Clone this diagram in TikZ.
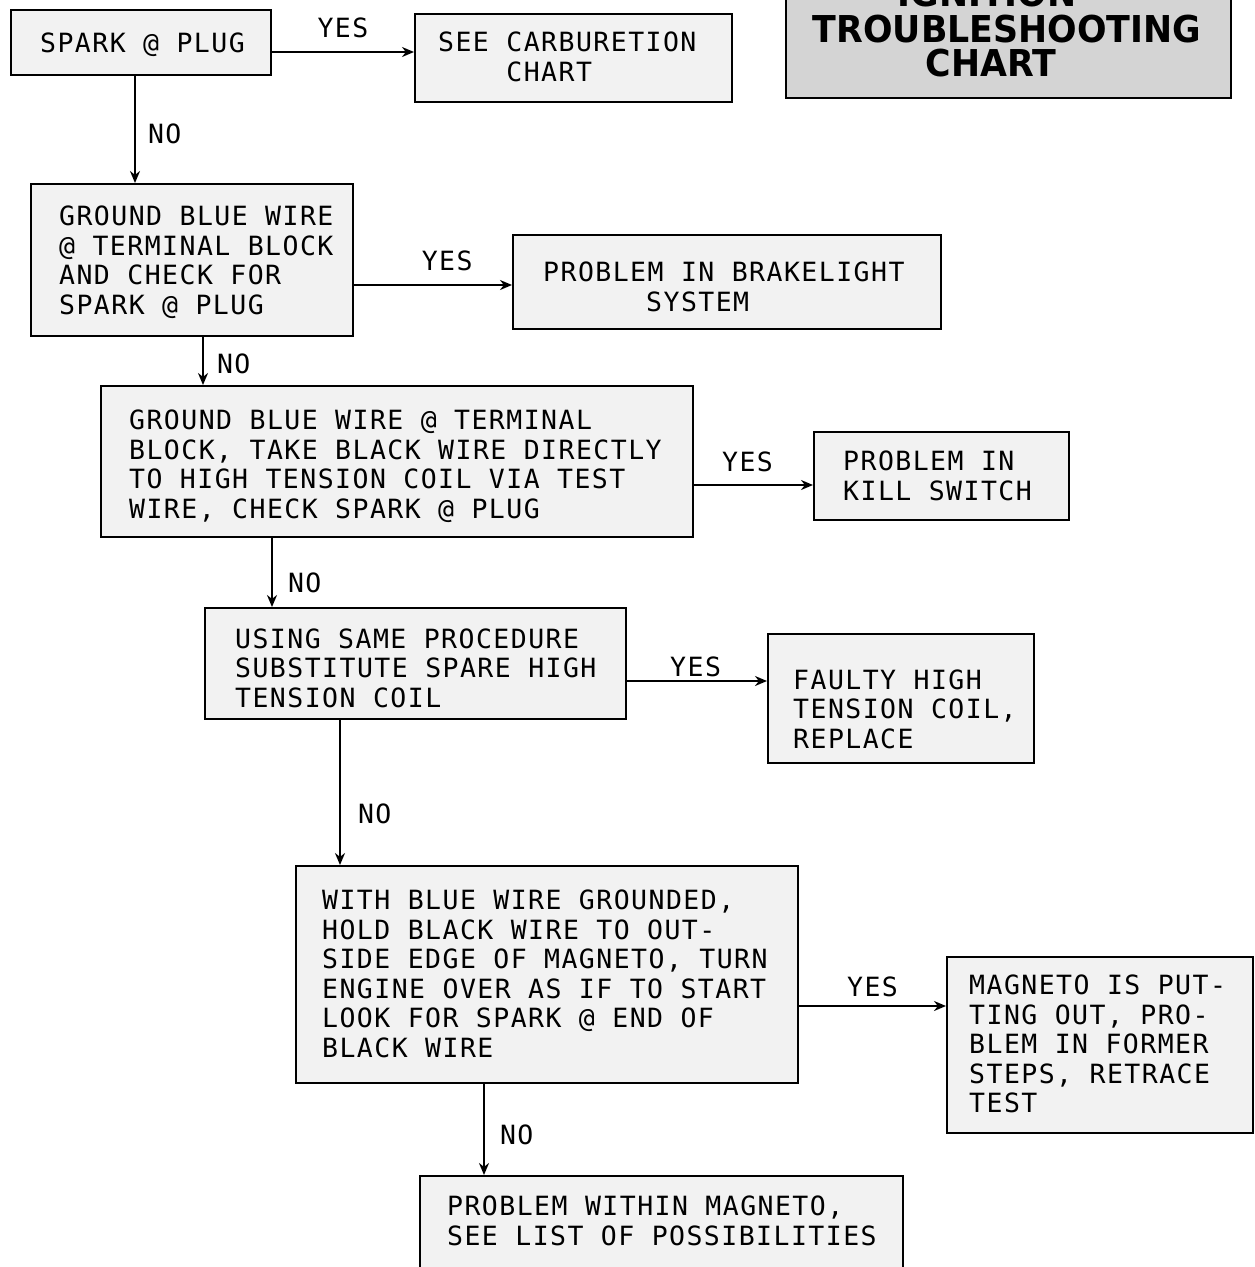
\documentclass[tikz,border=0pt]{standalone}
\usepackage{fontspec}
\usepackage{graphicx}
\usetikzlibrary{arrows.meta}
\newfontfamily\chartmono[LetterSpace=5.5]{DejaVu Sans Mono}
\newfontfamily\charttitle{DejaVu Sans}
\tikzset{
  box/.style={draw, line width=2pt, fill=black!5, inner sep=0pt, anchor=north west},
  titlebox/.style={draw, line width=2pt, fill=black!17, inner sep=0pt},
  txt/.style={font=\chartmono\fontsize{26.5}{29.5}\selectfont, align=left, inner sep=0pt, anchor=west},
  lbl/.style={font=\chartmono\fontsize{26.5}{29.5}\selectfont, inner sep=0pt},
  ttl/.style={font=\charttitle\bfseries\fontsize{37}{37}\selectfont, inner sep=0pt, anchor=base},
  arr/.style={line width=2pt, -{Stealth[length=12pt,width=10pt]}},
}
\begin{document}
\begin{tikzpicture}[x=1pt,y=-1pt]
\useasboundingbox (0,0) rectangle (1255,1267);
\clip (0,0) rectangle (1255,1267);
\fill[white] (0,0) rectangle (1255,1267);

% title
\node[titlebox, minimum width=445, minimum height=200, anchor=south] (title) at (1008,99) {};
\node[ttl] (t1) at (987,6) {\scalebox{0.94}[1]{IGNITION}};
\node[ttl] (t2) at (1007,42) {\scalebox{0.94}[1]{TROUBLESHOOTING}};
\node[ttl] (t3) at (991,76) {\scalebox{0.94}[1]{CHART}};

% boxes
\node[box, minimum width=260, minimum height=65] (b1) at (10,9) {};
\node[txt] (b1t) at (40,45) {SPARK @ PLUG};

\node[box, minimum width=317, minimum height=88] (b2) at (414,13) {};
\node[txt] (b2t) at (438,57) {SEE CARBURETION\\\hphantom{XXXX}CHART};

\node[box, minimum width=322, minimum height=152] (b4) at (30,183) {};
\node[txt] (b4t) at (59,262) {GROUND BLUE WIRE\\@ TERMINAL BLOCK\\AND CHECK FOR\\SPARK @ PLUG};

\node[box, minimum width=428, minimum height=94] (b5) at (512,234) {};
\node[txt] (b5t) at (543,287) {PROBLEM IN BRAKELIGHT\\\hphantom{XXXXXX}SYSTEM};

\node[box, minimum width=592, minimum height=151] (b6) at (100,385) {};
\node[txt] (b6t) at (129,466) {GROUND BLUE WIRE @ TERMINAL\\BLOCK, TAKE BLACK WIRE DIRECTLY\\TO HIGH TENSION COIL VIA TEST\\WIRE, CHECK SPARK @ PLUG};

\node[box, minimum width=255, minimum height=88] (b7) at (813,431) {};
\node[txt] (b7t) at (843,476) {PROBLEM IN\\KILL SWITCH};

\node[box, minimum width=421, minimum height=111] (b8) at (204,607) {};
\node[txt] (b8t) at (235,668) {USING SAME PROCEDURE\\SUBSTITUTE SPARE HIGH\\TENSION COIL};

\node[box, minimum width=266, minimum height=129] (b9) at (767,633) {};
\node[txt] (b9t) at (793,709) {FAULTY HIGH\\TENSION COIL,\\REPLACE};

\node[box, minimum width=502, minimum height=217] (b10) at (295,865) {};
\node[txt] (b10t) at (322,974) {WITH BLUE WIRE GROUNDED,\\HOLD BLACK WIRE TO OUT-\\SIDE EDGE OF MAGNETO, TURN\\ENGINE OVER AS IF TO START\\LOOK FOR SPARK @ END OF\\BLACK WIRE};

\node[box, minimum width=306, minimum height=176] (b11) at (946,956) {};
\node[txt] (b11t) at (969,1044) {MAGNETO IS PUT-\\TING OUT, PRO-\\BLEM IN FORMER\\STEPS, RETRACE\\TEST};

\node[box, minimum width=483, minimum height=100] (b12) at (419,1175) {};
\node[txt] (b12t) at (447,1221) {PROBLEM WITHIN MAGNETO,\\SEE LIST OF POSSIBILITIES};

% guide coordinates
\coordinate (y1) at (0,52);
\coordinate (y4) at (0,285);
\coordinate (y6) at (0,485);
\coordinate (y8) at (0,681);
\coordinate (y10) at (0,1006);
\coordinate (x1) at (135,0);
\coordinate (x4) at (203,0);
\coordinate (x6) at (272,0);
\coordinate (x8) at (340,0);
\coordinate (x10) at (484,0);

% YES connectors
\draw[arr] (b1.east |- y1) -- node[lbl, pos=.5, yshift=24] (l1) {YES} (b2.west |- y1);
\draw[arr] (b4.east |- y4) -- node[lbl, pos=.59, yshift=24] (l4) {YES} (b5.west |- y4);
\draw[arr] (b6.east |- y6) -- node[lbl, pos=.45, yshift=23] (l6) {YES} (b7.west |- y6);
\draw[arr] (b8.east |- y8) -- node[lbl, pos=.49, yshift=14] (l8) {YES} (b9.west |- y8);
\draw[arr] (b10.east |- y10) -- node[lbl, pos=.5, yshift=19] (l10) {YES} (b11.west |- y10);

% NO connectors
\draw[arr] (b1.south -| x1) -- node[lbl, anchor=west, pos=.54, xshift=12] (n1) {NO} (b4.north -| x1);
\draw[arr] (b4.south -| x4) -- node[lbl, anchor=west, pos=.56, xshift=13] (n4) {NO} (b6.north -| x4);
\draw[arr] (b6.south -| x6) -- node[lbl, anchor=west, pos=.65, xshift=15] (n6) {NO} (b8.north -| x6);
\draw[arr] (b8.south -| x8) -- node[lbl, anchor=west, pos=.65, xshift=17] (n8) {NO} (b10.north -| x8);
\draw[arr] (b10.south -| x10) -- node[lbl, anchor=west, pos=.56, xshift=15] (n10) {NO} (b12.north -| x10);
\end{tikzpicture}
\end{document}
